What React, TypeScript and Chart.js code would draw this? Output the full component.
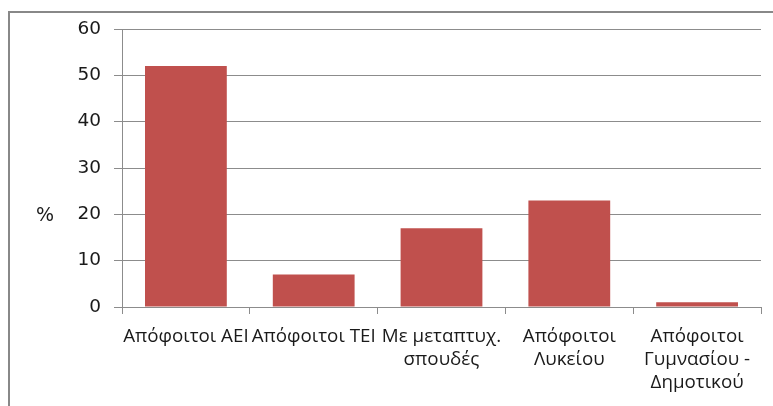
import React, { useEffect, useRef } from "react";
import { Chart, registerables } from "chart.js";

Chart.register(...registerables);

const categories: (string | string[])[] = [
  "Απόφοιτοι ΑΕΙ",
  "Απόφοιτοι ΤΕΙ",
  ["Με μεταπτυχ.", "σπουδές"],
  ["Απόφοιτοι", "Λυκείου"],
  ["Απόφοιτοι", "Γυμνασίου -", "Δημοτικού"],
];
const values: number[] = [52, 7, 17, 23, 1];
const yTicks: number[] = [0, 10, 20, 30, 40, 50, 60];
const yTitle = "%";

const W = 773;
const H = 406;

const framePlugin = {
  id: "frameAndTitle",
  beforeDraw(chart: any) {
    const ctx = chart.ctx;
    ctx.save();
    ctx.fillStyle = "#ffffff";
    ctx.fillRect(0, 0, chart.width, chart.height);
    ctx.fillStyle = "#888888";
    ctx.fillRect(8, 11, chart.width - 8, 2);
    ctx.fillRect(8, 11, 2, chart.height - 11);
    ctx.restore();
  },
  afterDraw(chart: any) {
    const ctx = chart.ctx;
    const a = chart.chartArea;
    ctx.save();
    ctx.font = "19px 'DejaVu Sans'";
    ctx.fillStyle = "#1a1a1a";
    ctx.textAlign = "center";
    ctx.textBaseline = "middle";
    ctx.fillText(yTitle, 45, a.top + (a.bottom - a.top) * 0.673);
    ctx.restore();
  },
};

export default function App() {
  const ref = useRef<HTMLCanvasElement | null>(null);
  useEffect(() => {
    document.body.style.margin = "0";
    const canvas = ref.current;
    if (!canvas) return;
    const chart = new Chart(canvas, {
      type: "bar",
      data: {
        labels: categories,
        datasets: [
          {
            data: values,
            backgroundColor: "#C0504D",
            borderWidth: 0,
            categoryPercentage: 1,
            barPercentage: 0.64,
          },
        ],
      },
      options: {
        animation: false,
        responsive: false,
        devicePixelRatio: 1,
        layout: { padding: { top: 29, right: 12, left: 0, bottom: 0 } },
        plugins: { legend: { display: false }, tooltip: { enabled: false } },
        scales: {
          x: {
            offset: true,
            grid: {
              offset: true,
              drawOnChartArea: false,
              drawTicks: true,
              tickLength: 7,
              color: "#8c8c8c",
            },
            border: { display: true, color: "#8c8c8c", width: 1 },
            ticks: {
              padding: 11,
              maxRotation: 0,
              autoSkip: false,
              color: "#1a1a1a",
              font: { family: "Open Sans", size: 18.8, lineHeight: 23 / 18.8 },
            },
            afterFit(s: any) {
              s.height = 99;
              s.paddingLeft = 0;
              s.paddingRight = 0;
            },
          },
          y: {
            min: 0,
            max: 60,
            afterBuildTicks(s: any) {
              s.ticks = yTicks.map((v) => ({ value: v }));
            },
            grid: { color: "#8c8c8c", tickLength: 8 },
            border: { display: true, color: "#8c8c8c", width: 1 },
            ticks: {
              padding: 13,
              color: "#1a1a1a",
              font: { family: "DejaVu Sans", size: 18.5 },
            },
            afterFit(s: any) {
              s.width = 122;
              s.paddingTop = 0;
              s.paddingBottom = 0;
            },
          },
        },
      },
      plugins: [framePlugin],
    });
    return () => chart.destroy();
  }, []);
  return (
    <div style={{ position: "absolute", left: 0, top: 0, width: W, height: H }}>
      <canvas ref={ref} width={W} height={H} style={{ width: W, height: H, display: "block" }} />
    </div>
  );
}
